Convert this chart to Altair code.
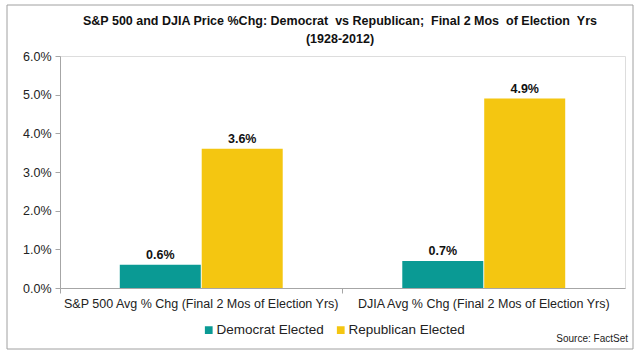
import altair as alt
import pandas as pd

categories = ["S&P 500 Avg % Chg (Final 2 Mos of Election Yrs)",
              "DJIA Avg % Chg (Final 2 Mos of Election Yrs)"]
parties = ["Democrat Elected", "Republican Elected"]
democrat_values = [0.006, 0.007]
republican_values = [0.036, 0.049]
colors = ["#0A9A94", "#F4C611"]
NB = "\u00a0"
title_lines = ["S&P 500 and DJIA Price %Chg: Democrat " + NB + "vs Republican; " + NB +
               "Final 2 Mos " + NB + "of Election " + NB + "Yrs",
               "(1928-2012)"]

rows = []
for i, c in enumerate(categories):
    rows.append({"cat": c, "party": parties[0], "val": democrat_values[i]})
    rows.append({"cat": c, "party": parties[1], "val": republican_values[i]})
df = pd.DataFrame(rows)

W, H = 565, 232

x_enc = alt.X("cat:N", sort=categories, title=None,
              scale=alt.Scale(paddingInner=0.42, paddingOuter=0.21),
              axis=alt.Axis(labelAngle=0, bandPosition=-0.362,
                            domainColor="#a6a6a6", tickColor="#a6a6a6", tickSize=5,
                            labelColor="#222222", labelFontSize=12.5, labelPadding=4,
                            labelFont="Liberation Sans", labelLimit=400))
xo_enc = alt.XOffset("party:N", sort=parties, scale=alt.Scale(paddingInner=0, paddingOuter=0))
y_enc = alt.Y("val:Q", title=None,
              scale=alt.Scale(domain=[0, 0.06], nice=False),
              axis=alt.Axis(values=[0, 0.01, 0.02, 0.03, 0.04, 0.05, 0.06], format=".1%",
                            grid=False, domainColor="#a6a6a6", tickColor="#a6a6a6",
                            tickSize=5, labelColor="#222222", labelFontSize=12.5,
                            labelFont="Liberation Sans", labelPadding=4))

base = alt.Chart(df).encode(x=x_enc, xOffset=xo_enc, y=y_enc)

bars = base.mark_bar(size=81).encode(
    color=alt.Color("party:N", sort=parties,
                    scale=alt.Scale(domain=parties, range=colors),
                    legend=alt.Legend(title=None, orient="none", direction="horizontal",
                                      legendX=142, legendY=267, symbolType="square",
                                      symbolSize=60, symbolStrokeWidth=0,
                                      labelFontSize=13.5, labelFont="Liberation Sans",
                                      labelColor="#222222", columnPadding=10,
                                      symbolOffset=0, labelOffset=1))
)

labels = base.mark_text(dy=-10, fontWeight="bold", fontSize=12.5,
                        font="Liberation Sans", color="#111111").encode(
    text=alt.Text("val:Q", format=".1%")
)

source = alt.Chart(pd.DataFrame({"t": ["Source: FactSet"]})).mark_text(
    align="right", fontSize=10, font="Liberation Sans", color="#222222"
).encode(x=alt.value(568), y=alt.value(283), text="t:N")

title1 = alt.Chart(pd.DataFrame({"t": [title_lines[0]]})).mark_text(
    align="center", fontSize=12.5, font="Liberation Sans", fontWeight="bold", color="#111111"
).encode(x=alt.value(280), y=alt.value(-35), text="t:N")

title2 = alt.Chart(pd.DataFrame({"t": [title_lines[1]]})).mark_text(
    align="center", fontSize=12.5, font="Liberation Sans", fontWeight="bold", color="#111111"
).encode(x=alt.value(280), y=alt.value(-17), text="t:N")

frame = alt.Chart(pd.DataFrame({"t": [0]})).mark_rect(
    fill=None, stroke="#a0a0a0", strokeWidth=1, clip=False
).encode(x=alt.value(-53), x2=alt.value(573), y=alt.value(-51), y2=alt.value(293))

chart = alt.layer(frame, bars, labels, source, title1, title2).properties(
    width=W, height=H,
    autosize=alt.AutoSizeParams(type="none"),
    padding={"left": 60, "top": 56, "right": 15, "bottom": 67},
).configure_view(stroke=None).configure(background="white")

chart.save("out.html", embed_options={"renderer": "svg", "actions": False})
